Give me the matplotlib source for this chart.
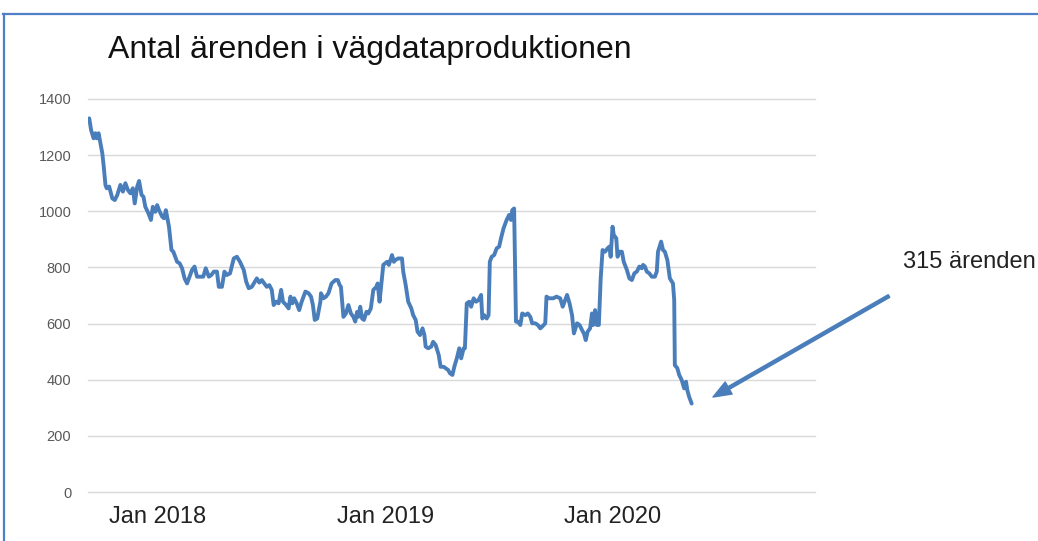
import pandas as pd
import matplotlib
matplotlib.use("Agg")
import matplotlib.pyplot as plt
from matplotlib.lines import Line2D

plt.rcParams["font.family"] = ["Liberation Sans", "DejaVu Sans"]

TITLE = "Antal ärenden i vägdataproduktionen"
NOTE = "315 ärenden"
START = "2018-01-01"

# days relative to START, with number of open cases
days = [
    -110, -107, -103, -100, -98, -95, -92, -89, -87, -84, -82, -78, -73, -69, -65, -60,
    -56, -52, -48, -44, -40, -37, -33, -30, -26, -23, -20, -15, -11, -8, -4, -1,
    2, 7, 10, 13, 16, 18, 20, 22, 25, 28, 31, 35, 39, 43, 47, 51,
    55, 59, 63, 68, 73, 77, 82, 86, 90, 95, 98, 103, 107, 111, 116, 122,
    127, 132, 138, 142, 146, 151, 155, 159, 163, 167, 171, 175, 179, 183, 186, 190,
    194, 198, 201, 206, 210, 213, 216, 219, 223, 227, 231, 237, 242, 246, 249, 252,
    256, 261, 262, 266, 270, 274, 279, 285, 289, 292, 294, 298, 302, 306, 310, 314,
    317, 320, 322, 325, 328, 331, 335, 338, 342, 346, 351, 353, 356, 360, 362, 368,
    371, 376, 379, 381, 386, 392, 394, 398, 402, 407, 410, 414, 417, 421, 425, 428,
    430, 434, 439, 442, 446, 451, 454, 459, 462, 466, 469, 473, 476, 480, 484, 487,
    491, 493, 496, 500, 503, 507, 511, 515, 519, 521, 524, 528, 531, 533, 536, 540,
    544, 548, 551, 555, 560, 564, 567, 569, 572, 575, 578, 582, 585, 590, 594, 598,
    601, 606, 610, 614, 617, 622, 624, 628, 635, 640, 646, 650, 654, 657, 661, 665,
    668, 673, 677, 681, 684, 687, 690, 694, 697, 699, 702, 705, 708, 711, 714, 718,
    722, 725, 727, 730, 732, 736, 738, 741, 745, 748, 753, 757, 761, 765, 769, 773,
    777, 779, 782, 785, 789, 793, 798, 801, 803, 808, 811, 814, 818, 822, 827, 829,
    830, 834, 837, 841, 845, 848, 850, 853, 857,
]
cases = [
    1331, 1289, 1260, 1278, 1260, 1278, 1242, 1206, 1165, 1094, 1082, 1088, 1046, 1040, 1058, 1094,
    1070, 1100, 1076, 1064, 1082, 1028, 1088, 1108, 1058, 1052, 1016, 993, 969, 1016, 998, 1022,
    1004, 981, 975, 1004, 969, 945, 904, 862, 856, 838, 820, 815, 797, 761, 743, 767,
    791, 803, 767, 767, 767, 797, 767, 773, 785, 785, 731, 731, 785, 773, 779, 832,
    838, 820, 791, 749, 726, 731, 746, 761, 746, 755, 743, 731, 737, 720, 666, 678,
    672, 720, 678, 666, 654, 696, 672, 690, 672, 648, 678, 714, 708, 696, 666, 613,
    618, 678, 708, 690, 696, 708, 743, 755, 755, 737, 731, 624, 636, 666, 636, 624,
    607, 642, 624, 660, 618, 613, 642, 636, 654, 720, 731, 743, 678, 767, 809, 820,
    809, 844, 820, 826, 832, 832, 785, 737, 678, 654, 630, 613, 571, 559, 583, 559,
    518, 512, 518, 535, 524, 488, 446, 446, 441, 435, 423, 417, 446, 476, 512, 476,
    512, 512, 672, 678, 660, 690, 678, 684, 702, 618, 630, 618, 630, 820, 838, 844,
    868, 874, 904, 939, 969, 987, 969, 1004, 1010, 607, 607, 595, 636, 630, 636, 624,
    601, 601, 595, 583, 589, 601, 696, 690, 690, 696, 690, 660, 684, 702, 672, 630,
    565, 601, 595, 577, 565, 541, 571, 583, 636, 595, 648, 595, 595, 761, 862, 856,
    868, 874, 838, 945, 915, 904, 838, 856, 856, 820, 791, 761, 755, 779, 785, 803,
    797, 809, 803, 785, 779, 767, 767, 785, 856, 892, 862, 856, 826, 761, 743, 684,
    452, 441, 417, 399, 369, 393, 363, 339, 315,
]

tick_dates = ["2018-01-01", "2019-01-01", "2020-01-01"]
tick_labels = ["Jan 2018", "Jan 2019", "Jan 2020"]
y_ticks = [0, 200, 400, 600, 800, 1000, 1200, 1400]

dates = pd.Timestamp(START) + pd.to_timedelta(days, unit="D")

W, H = 1038, 541
fig = plt.figure(figsize=(W / 100, H / 100), dpi=100)
fig.patch.set_facecolor("white")

ax = fig.add_axes([88 / W, 49 / H, 727 / W, 393 / H])
ax.plot(dates, cases, color="#4A7EBB", lw=2.8, solid_joinstyle="round", solid_capstyle="round")

ax.set_ylim(0, 1400)
ax.set_yticks(y_ticks)
ax.set_xlim(pd.Timestamp(START) - pd.Timedelta(days=112), pd.Timestamp(START) + pd.Timedelta(days=1055))
ax.set_xticks(pd.to_datetime(tick_dates))
ax.set_xticklabels(tick_labels)

ax.grid(axis="y", color="#D9D9D9", lw=1.0)
for g in ax.get_ygridlines():
    g.set_clip_on(False)
ax.set_axisbelow(True)
for s in ax.spines.values():
    s.set_visible(False)
ax.tick_params(axis="y", length=0, pad=12, labelsize=10.5, labelcolor="#595959")
ax.tick_params(axis="x", length=0, pad=10, labelsize=17, labelcolor="#222222")

fig.text(108 / W, 1 - 58 / H, TITLE, fontsize=23, color="#111111", va="baseline", ha="left")
fig.text(903 / W, 1 - 268 / H, NOTE, fontsize=17, color="#222222", va="baseline", ha="left")

ax.annotate(
    "", xy=(713 / W, 1 - 397 / H), xycoords="figure fraction",
    xytext=(889 / W, 1 - 296 / H), textcoords="figure fraction",
    arrowprops=dict(color="#4A7EBB", width=2.2, headwidth=10, headlength=13, shrink=0),
)

# slide frame
fig.add_artist(Line2D([3 / W, 1], [1 - 14 / H, 1 - 14 / H], transform=fig.transFigure, color="#4F7FC6", lw=1.6))
fig.add_artist(Line2D([4 / W, 4 / W], [0, 1 - 14 / H], transform=fig.transFigure, color="#4F7FC6", lw=1.6))

fig.savefig("out.png", dpi=100)
